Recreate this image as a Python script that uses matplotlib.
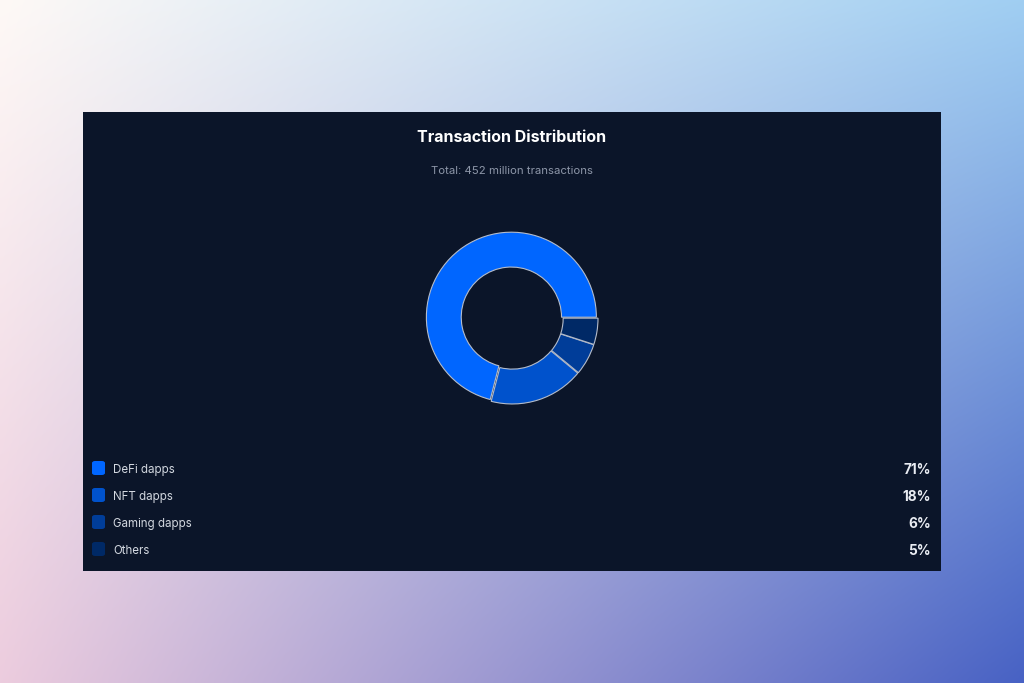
import matplotlib.pyplot as plt
import numpy as np
from matplotlib.patches import FancyBboxPatch, Rectangle

plt.rcParams['font.family'] = ['Inter', 'DejaVu Sans']

# chart data
categories = ["DeFi dapps", "NFT dapps", "Gaming dapps", "Others"]
shares = [71, 18, 6, 5]
slice_colors = ["#0066ff", "#0052cc", "#003d99", "#002966"]
title = "Transaction Distribution"
subtitle = "Total: 452 million transactions"

W, H = 1024, 683
fig = plt.figure(figsize=(W / 100, H / 100), dpi=100)


def px(x, y):
    """pixel coords (top-left origin) -> figure fraction"""
    return x / W, 1 - y / H


# gradient backdrop
bg = fig.add_axes([0, 0, 1, 1])
bg.set_axis_off()
tl = np.array([254, 249, 246]) / 255
tr = np.array([160, 206, 242]) / 255
bl = np.array([236, 204, 222]) / 255
br = np.array([72, 98, 196]) / 255
u = np.linspace(0, 1, 256)[None, :, None]
v = np.linspace(0, 1, 171)[:, None, None]
top = tl * (1 - u) + tr * u
bot = bl * (1 - u) + br * u
grad = top * (1 - v) + bot * v
bg.imshow(np.clip(grad, 0, 1), aspect='auto', extent=[0, 1, 0, 1], interpolation='bicubic')
bg.set_xlim(0, 1)
bg.set_ylim(0, 1)

# dark card
x0, y0 = px(83, 571)
x1, y1 = px(941, 112)
fig.patches.append(Rectangle((x0, y0), x1 - x0, y1 - y0, transform=fig.transFigure,
                             facecolor="#0b1529", edgecolor="none", zorder=1))

fig.text(*px(512, 138), title, ha='center', va='center', color='white',
         fontsize=11.5, fontweight='bold', zorder=3)
fig.text(*px(512, 171), subtitle, ha='center', va='center', color='#8d96a8',
         fontsize=8.2, zorder=3)

# donut
cx, cy, half = 512, 318, 100
ax = fig.add_axes([(cx - half) / W, (H - cy - half) / H, 2 * half / W, 2 * half / H])
ax.set_zorder(2)
ax.pie(shares, colors=slice_colors, startangle=0, counterclock=True,
       explode=[0.012] * len(shares),
       wedgeprops=dict(width=0.41, edgecolor='#b4bccb', linewidth=0.8))
lim = half / 85
ax.set_xlim(-lim, lim)
ax.set_ylim(-lim, lim)
ax.set_aspect('equal')
ax.set_axis_off()

# legend rows
row_y = [468, 495, 522, 549]
for name, val, col, ry in zip(categories, shares, slice_colors, row_y):
    sx, sy = px(92, ry + 7)
    fig.patches.append(FancyBboxPatch((sx, sy), 13 / W, 14 / H,
                                      boxstyle="round,pad=0,rounding_size=0.003",
                                      transform=fig.transFigure, facecolor=col,
                                      edgecolor='none', zorder=3))
    fig.text(*px(113, ry + 2), name, ha='left', va='center', color='#d3d8e0',
             fontsize=8.3, zorder=3)
    fig.text(*px(931, ry + 2), f"{val}%", ha='right', va='center', color='#e9ecf2',
             fontsize=9.8, fontweight='bold', zorder=3)

fig.savefig("out.png", dpi=100)
